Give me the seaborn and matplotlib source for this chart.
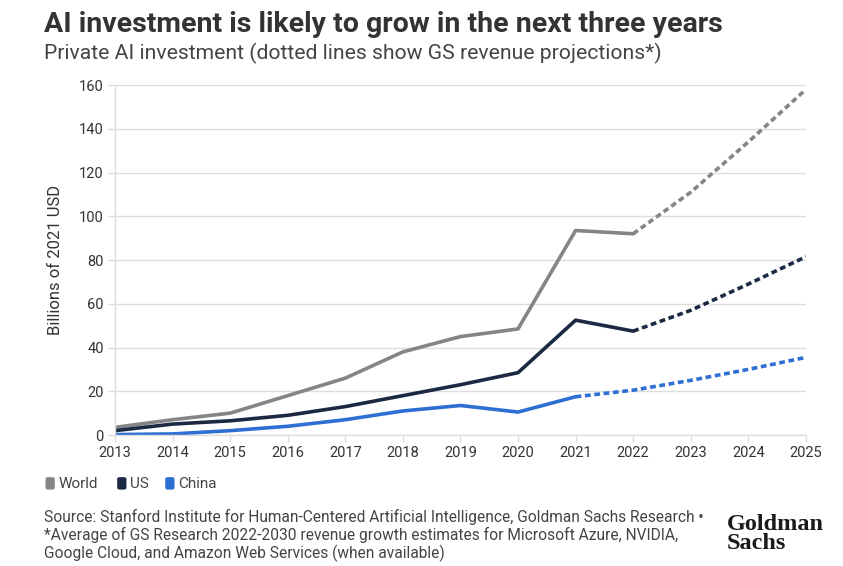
import matplotlib
matplotlib.use("Agg")
import matplotlib.pyplot as plt
import seaborn as sns
import pandas as pd
from matplotlib.patches import FancyBboxPatch

# ---- data ----
years = [2013, 2014, 2015, 2016, 2017, 2018, 2019, 2020, 2021, 2022, 2023, 2024, 2025]
world = [3.5, 7, 10, 18, 26, 38, 45, 48.5, 93.5, 92, 111, 134, 158]
us = [2, 5, 6.5, 9, 13, 18, 23, 28.5, 52.5, 47.5, 57, 69, 81.5]
china = [0.2, 0.5, 2, 4, 7, 11, 13.5, 10.5, 17.5, 20.5, 25, 30, 35.5]
# last actual year per series (projection dotted from there on)
last_actual = {"World": 2022, "US": 2022, "China": 2021}
series_names = ["World", "US", "China"]
colors = {"World": "#858585", "US": "#1b2a42", "China": "#2e6fd3"}
yticks = [0, 20, 40, 60, 80, 100, 120, 140, 160]

title = "AI investment is likely to grow in the next three years"
subtitle = "Private AI investment (dotted lines show GS revenue projections*)"
ylabel = "Billions of 2021 USD"
footer = ("Source: Stanford Institute for Human-Centered Artificial Intelligence, Goldman Sachs Research \u2022\n"
          "*Average of GS Research 2022-2030 revenue growth estimates for Microsoft Azure, NVIDIA,\n"
          "Google Cloud, and Amazon Web Services (when available)")

rows = []
for name, vals in zip(series_names, [world, us, china]):
    for y, v in zip(years, vals):
        rows.append({"year": y, "value": v, "series": name})
df = pd.DataFrame(rows)

sns.set_theme(style="white")
plt.rcParams["font.family"] = ["Roboto", "DejaVu Sans"]

fig = plt.figure(figsize=(8.43, 5.66), dpi=100)
ax = fig.add_axes([0.1364, 0.2314, 0.8196, 0.6184])

for name in series_names:
    d = df[df.series == name]
    la = last_actual[name]
    actual = d[d.year <= la]
    proj = d[d.year >= la]
    sns.lineplot(data=actual, x="year", y="value", ax=ax, color=colors[name],
                 linewidth=2.6, legend=False)
    l = sns.lineplot(data=proj, x="year", y="value", ax=ax, color=colors[name],
                     linewidth=2.6, legend=False)
    l.lines[-1].set_dashes([1.6, 1.0])

ax.set_xlim(2013, 2025)
ax.set_ylim(0, 160)
ax.set_xticks(years)
ax.set_yticks(yticks)
ax.set_xticklabels([str(y) for y in years], fontsize=10.5, color="#333333")
ax.set_yticklabels([str(y) for y in yticks], fontsize=10.5, color="#333333")
ax.grid(axis="y", color="#dddddd", linewidth=1)
ax.set_axisbelow(True)
for s in ["top", "right"]:
    ax.spines[s].set_visible(False)
for s in ["left", "bottom"]:
    ax.spines[s].set_color("#dddddd")
    ax.spines[s].set_linewidth(1)
ax.tick_params(axis="both", which="both", length=5, color="#dddddd", width=1,
               direction="out", bottom=True, left=True, pad=3)
ax.set_xlabel("")
ax.set_ylabel(ylabel, fontsize=12, color="#333333")
ax.yaxis.set_label_coords(-0.075, 0.5)

fig.text(0.052, 0.957, title, fontsize=20.5, fontweight="bold", color="#333333",
         va="center", ha="left")
fig.text(0.052, 0.906, subtitle, fontsize=15.2, color="#444444", va="center", ha="left")

# legend
lx = [0.054, 0.139, 0.196]
for name, x in zip(series_names, lx):
    fig.patches.append(FancyBboxPatch((x, 0.135), 0.011, 0.022, boxstyle="round,pad=0,rounding_size=0.003",
                                      transform=fig.transFigure, facecolor=colors[name],
                                      edgecolor="none"))
    fig.text(x + 0.015, 0.1455, name, fontsize=11, color="#444444", va="center", ha="left")

fig.text(0.052, 0.101, footer, fontsize=11.2, color="#444444", va="top", ha="left",
         linespacing=1.15)
fig.text(0.862, 0.021, "Goldman\nSachs", fontsize=17.5, fontweight="bold", color="#1a1a1a",
         family=["Liberation Serif", "DejaVu Serif"],
         va="bottom", ha="left", linespacing=0.88)

fig.savefig("out.png", dpi=100)
